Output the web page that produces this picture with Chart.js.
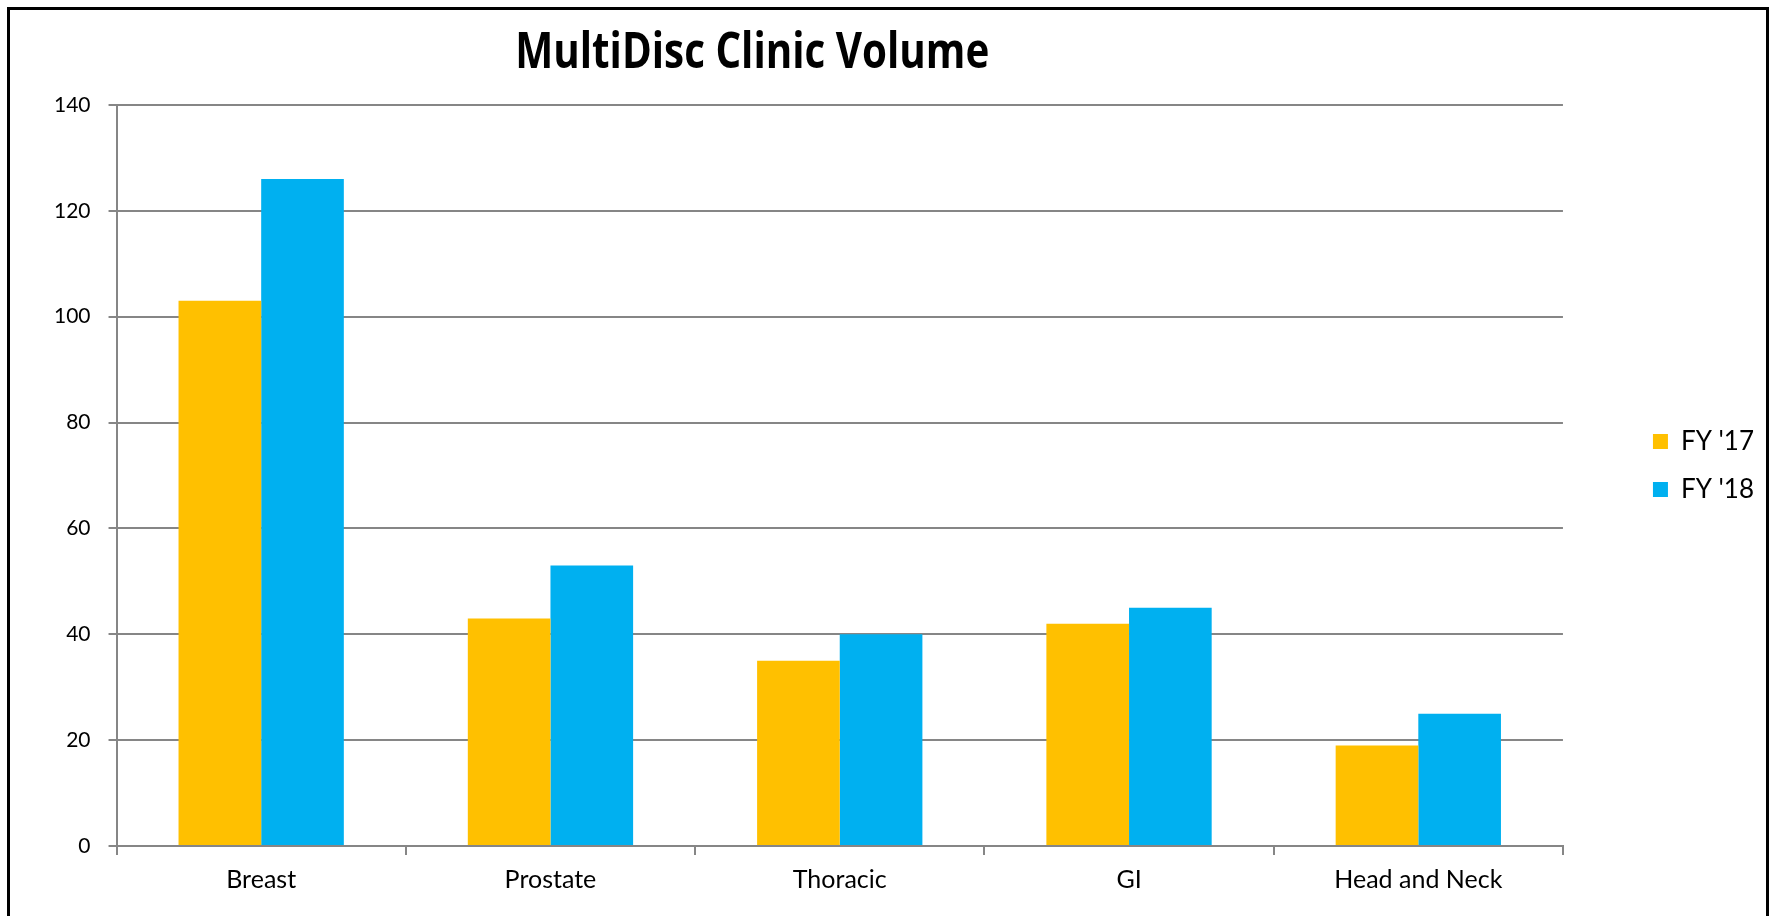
<!DOCTYPE html>
<html>
<head>
<meta charset="utf-8">
<title>MultiDisc Clinic Volume</title>
<script src="https://cdn.jsdelivr.net/npm/chart.js@4.4.1/dist/chart.umd.min.js"></script>
<style>
  html, body { margin: 0; padding: 0; background: #fff; overflow: hidden; }
  #wrap { position: relative; width: 1776px; height: 916px; }
  #frame {
    position: absolute; left: 7px; top: 7px; width: 1762px; height: 1000px;
    border: 3px solid #000; box-sizing: border-box; pointer-events: none;
  }
  #myChart { position: absolute; left: 0; top: 0; }
</style>
</head>
<body>
<div id="wrap">
  <div id="frame"></div>
  <canvas id="myChart" width="1776" height="916"></canvas>
</div>
<script>
// --- chart data
const chartTitle = 'MultiDisc Clinic Volume';
const categories = ['Breast', 'Prostate', 'Thoracic', 'GI', 'Head and Neck'];
const seriesNames = ["FY '17", "FY '18"];
const fy17 = [103, 43, 35, 42, 19];
const fy18 = [126, 53, 40, 45, 25];
const yMin = 0;
const yMax = 140;
const yStep = 20;

const colors = ['#FFC000', '#00B0F0'];
const gridColor = '#868686';

// draws the title off-centre, like the original Excel chart
// (squeezed sideways a bit, the original font is a narrow one)
const titlePlugin = {
    id: 'titlePlugin',
    afterDraw(chart) {
        const { ctx, chartArea } = chart;
        ctx.save();
        ctx.font = 'bold 51px "Open Sans", sans-serif';
        ctx.fillStyle = '#000';
        ctx.textAlign = 'center';
        ctx.textBaseline = 'alphabetic';
        const w = ctx.measureText(chartTitle).width;
        ctx.translate(chartArea.left + chartArea.width * 0.4395, chartArea.top - 37);
        ctx.scale(474 / w, 1);
        ctx.fillText(chartTitle, 0, 0);
        ctx.restore();
    }
};

// legend sits a little above the middle of the plot
const legendNudge = {
    id: 'legendNudge',
    afterLayout(chart) {
        chart.legend.top -= 10;
        chart.legend.bottom -= 10;
    }
};

$ready = function () {
    const ctx = document.getElementById('myChart');

    new Chart(ctx, {
        type: 'bar',
        data: {
            labels: categories,
            datasets: [{
                label: seriesNames[0],
                data: fy17,
                backgroundColor: colors[0],
                borderWidth: 0
            }, {
                label: seriesNames[1],
                data: fy18,
                backgroundColor: colors[1],
                borderWidth: 0
            }]
        },
        options: {
            responsive: false,
            animation: false,
            devicePixelRatio: 1,
            categoryPercentage: 2 / 3.5,
            barPercentage: 1,
            layout: { padding: { top: 105, left: 36, right: 12, bottom: 11 } },
            plugins: {
                title: { display: false },
                tooltip: { enabled: false },
                legend: {
                    display: true,
                    position: 'right',
                    fullSize: false,
                    labels: {
                        boxWidth: 15, boxHeight: 15, padding: 22, color: '#000',
                        font: { family: 'Lato', size: 26 }
                    }
                }
            },
            scales: {
                x: {
                    grid: {
                        display: true, drawOnChartArea: false, drawTicks: true,
                        tickLength: 9, color: gridColor, lineWidth: 2
                    },
                    border: { display: true, color: gridColor, width: 2 },
                    ticks: {
                        padding: 10, color: '#000', maxRotation: 0,
                        font: { family: 'Lato', size: 25 }
                    }
                },
                y: {
                    min: yMin, max: yMax,
                    grid: { color: gridColor, lineWidth: 2, tickLength: 8 },
                    border: { display: true, color: gridColor, width: 2 },
                    ticks: {
                        stepSize: yStep, padding: 18, color: '#000',
                        font: { family: 'Lato', size: 21 }
                    }
                },
                gap: {
                    type: 'linear', position: 'right', display: true,
                    grid: { display: false }, border: { display: false },
                    ticks: { display: false },
                    afterFit: function (scale) { scale.width = 68; }
                }
            }
        },
        plugins: [titlePlugin, legendNudge]
    });
};
$ready();
</script>
</body>
</html>
